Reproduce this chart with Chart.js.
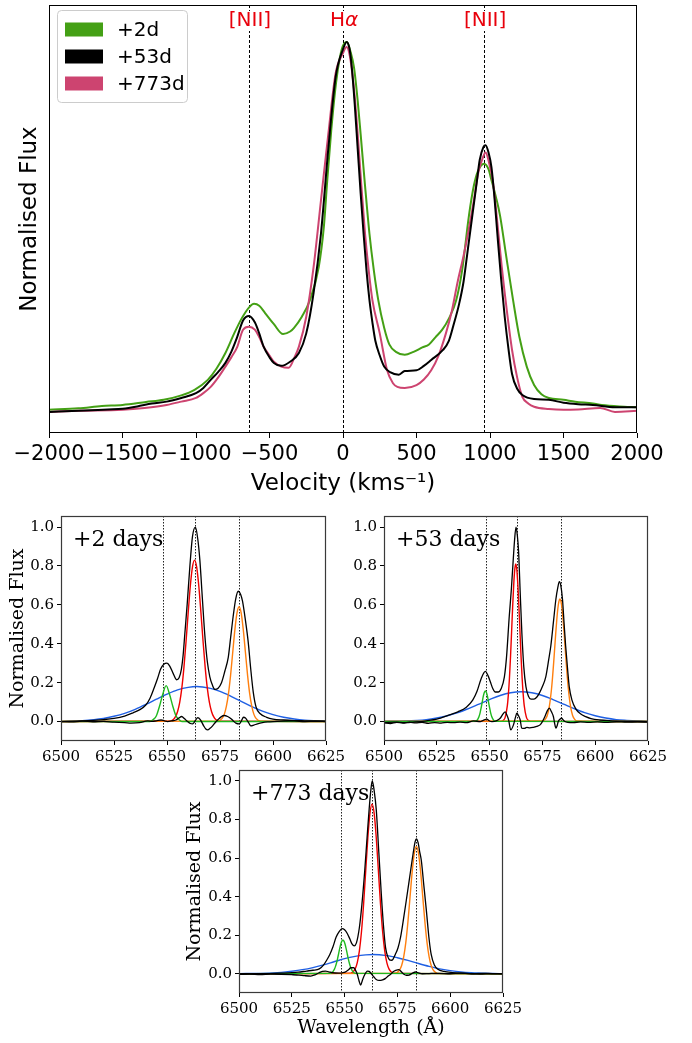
<!DOCTYPE html>
<html>
<head>
<meta charset="utf-8">
<script src="https://cdn.jsdelivr.net/npm/chart.js@4/dist/chart.umd.min.js"></script>
<style>
  body { margin: 0; background: #fff; width: 692px; height: 1043px; position: relative; overflow: hidden; }
  canvas { position: absolute; }
</style>
</head>
<body>
<canvas id="top" width="692" height="500" style="left:0;top:0"></canvas>
<canvas id="p1" width="346" height="265" style="left:0;top:500px"></canvas>
<canvas id="p2" width="346" height="265" style="left:346px;top:500px"></canvas>
<canvas id="p3" width="370" height="283" style="left:180px;top:760px"></canvas>
<script>
// ---- top panel: line profiles in velocity space ----
const velTicks = [-2000, -1500, -1000, -500, 0, 500, 1000, 1500, 2000];
const lineVels = [-640, 0, 960];          // [NII], Halpha, [NII]
const lineNames = ['[NII]', 'H', '[NII]'];
const epochLabels = ['+2d', '+53d', '+773d'];

const flux2d = [[-2000,0.003],[-1800,0.007],[-1640,0.013],[-1500,0.016],[-1340,0.024],[-1220,0.03],[-1100,0.042],[-1010,0.057],[-920,0.084],[-860,0.115],[-800,0.157],[-740,0.21],[-690,0.25],[-640,0.28],[-605,0.29],[-570,0.285],[-530,0.265],[-470,0.235],[-408,0.208],[-360,0.215],[-333,0.225],[-280,0.255],[-225,0.30],[-165,0.39],[-130,0.5],[-108,0.62],[-80,0.76],[-47,0.89],[-20,0.96],[0,0.99],[27,1.0],[50,0.975],[75,0.93],[100,0.84],[120,0.75],[150,0.61],[180,0.48],[210,0.38],[240,0.30],[280,0.225],[315,0.18],[360,0.16],[420,0.152],[480,0.16],[540,0.172],[585,0.18],[630,0.2],[675,0.22],[720,0.25],[770,0.30],[810,0.38],[857,0.53],[890,0.61],[918,0.65],[960,0.67],[990,0.655],[1007,0.63],[1040,0.58],[1068,0.53],[1110,0.42],[1157,0.30],[1200,0.2],[1250,0.12],[1300,0.07],[1350,0.045],[1400,0.035],[1500,0.03],[1580,0.025],[1700,0.02],[1760,0.016],[1880,0.012],[2000,0.01]];
const flux53d = [[-2000,-0.003],[-1800,0.0],[-1600,0.004],[-1500,0.006],[-1400,0.012],[-1300,0.02],[-1200,0.025],[-1100,0.035],[-1000,0.048],[-950,0.062],[-900,0.084],[-850,0.105],[-800,0.13],[-760,0.16],[-720,0.2],[-680,0.245],[-640,0.257],[-600,0.24],[-570,0.21],[-540,0.174],[-500,0.145],[-470,0.13],[-420,0.122],[-360,0.133],[-300,0.157],[-250,0.21],[-200,0.32],[-150,0.48],[-100,0.71],[-50,0.905],[0,0.98],[25,1.0],[45,0.98],[60,0.93],[80,0.83],[100,0.71],[120,0.59],[140,0.48],[160,0.38],[180,0.30],[200,0.24],[220,0.19],[250,0.15],[280,0.12],[320,0.105],[380,0.098],[420,0.108],[500,0.11],[550,0.122],[600,0.138],[680,0.165],[720,0.19],[750,0.23],[790,0.29],[820,0.35],[850,0.44],[880,0.53],[910,0.62],[930,0.68],[955,0.715],[970,0.72],[990,0.7],[1010,0.66],[1030,0.58],[1050,0.48],[1075,0.36],[1100,0.255],[1125,0.17],[1150,0.10],[1185,0.06],[1220,0.043],[1300,0.032],[1400,0.03],[1500,0.022],[1600,0.018],[1700,0.016],[1850,0.01],[2000,0.01]];
const flux773d = [[-2000,-0.003],[-1800,0.0],[-1500,0.003],[-1350,0.008],[-1200,0.016],[-1100,0.025],[-1000,0.035],[-950,0.048],[-900,0.065],[-850,0.09],[-800,0.12],[-760,0.145],[-720,0.173],[-680,0.22],[-640,0.228],[-600,0.22],[-570,0.2],[-540,0.174],[-500,0.15],[-470,0.133],[-420,0.12],[-370,0.117],[-330,0.145],[-300,0.174],[-250,0.255],[-200,0.39],[-150,0.57],[-100,0.75],[-50,0.915],[0,0.97],[25,0.986],[45,0.965],[60,0.925],[80,0.85],[100,0.75],[125,0.61],[150,0.48],[175,0.38],[200,0.30],[250,0.21],[300,0.11],[340,0.075],[370,0.065],[420,0.062],[500,0.07],[550,0.085],[600,0.11],[650,0.15],[700,0.21],[740,0.27],[780,0.35],[820,0.42],[850,0.48],[890,0.57],[920,0.645],[950,0.685],[970,0.70],[995,0.67],[1020,0.62],[1050,0.51],[1080,0.39],[1115,0.27],[1150,0.165],[1185,0.09],[1220,0.038],[1260,0.02],[1300,0.011],[1400,0.005],[1500,0.003],[1600,0.004],[1750,0.008],[1850,-0.003],[2000,0.0]];

// ---- bottom panels: wavelength space fits ----
const wlTicks = [6500, 6525, 6550, 6575, 6600, 6625];
const fluxTicks = [0.0, 0.2, 0.4, 0.6, 0.8, 1.0];
const restLines = [6548.1, 6563.1, 6584.0];
const panelLabels = ['+2 days', '+53 days', '+773 days'];

// +2 days
const p1Total = [[6500,0.0],[6510,0.003],[6520,0.01],[6525,0.016],[6530,0.028],[6534,0.045],[6537,0.06],[6540,0.085],[6542,0.12],[6544,0.175],[6545.5,0.22],[6547,0.27],[6548.5,0.295],[6550,0.30],[6551.3,0.285],[6553,0.245],[6554.5,0.215],[6555.7,0.225],[6556.8,0.27],[6557.6,0.34],[6558.4,0.45],[6559.5,0.6],[6560.8,0.80],[6562,0.95],[6563.4,1.0],[6564.5,0.94],[6565.5,0.83],[6566.7,0.63],[6567.8,0.45],[6569,0.31],[6570.2,0.23],[6571.5,0.185],[6572.6,0.165],[6574,0.17],[6575.7,0.20],[6577.3,0.26],[6578.9,0.33],[6580,0.43],[6581.2,0.54],[6582.4,0.63],[6583.6,0.67],[6584.7,0.655],[6585.6,0.62],[6587,0.52],[6588.3,0.41],[6589.5,0.27],[6590.7,0.15],[6592,0.075],[6594,0.04],[6597,0.022],[6600,0.013],[6605,0.008],[6610,0.005],[6615,0.004],[6625,0.002]];
const p1Resid = [[6500,0],[6505,-0.002],[6510,0.002],[6515,-0.001],[6520,0.001],[6525,-0.003],[6530,-0.005],[6533,-0.008],[6537,-0.006],[6540.9,0.003],[6543,0.001],[6545,0.004],[6547.2,0.008],[6548.8,0.004],[6550.3,0.0],[6552,0.003],[6554.2,0.008],[6555.6,0.018],[6556.9,0.026],[6558.3,0.014],[6559.7,0.0],[6561,-0.01],[6562.1,-0.012],[6563.3,0.004],[6564.5,0.02],[6565.7,0.01],[6567.3,-0.022],[6568.3,-0.038],[6569.2,-0.043],[6570.3,-0.035],[6571.5,-0.022],[6572.7,-0.006],[6573.9,0.008],[6575.5,0.024],[6577,0.031],[6578.6,0.026],[6580.2,0.015],[6581.4,0.002],[6582.5,-0.008],[6584.1,-0.012],[6585.1,0.004],[6586.1,0.022],[6587,0.018],[6587.7,0.008],[6588.7,-0.01],[6589.6,-0.022],[6591,-0.018],[6592.7,-0.012],[6595,-0.006],[6597.5,-0.002],[6600,0.0],[6605,0.002],[6610,0.003],[6615,0.0],[6620,0.001],[6625,0.0]];
const p1Ha = [[6500,0],[6551,0.002],[6553,0.011],[6554,0.025],[6555,0.052],[6556,0.099],[6557,0.173],[6558,0.28],[6559,0.414],[6560,0.561],[6561,0.697],[6562,0.794],[6563,0.83],[6564,0.794],[6565,0.697],[6566,0.561],[6567,0.414],[6568,0.28],[6569,0.173],[6570,0.099],[6571,0.052],[6572,0.025],[6573,0.011],[6575,0.002],[6625,0]];
const p1Nii1 = [[6500,0],[6542,0],[6543.5,0.01],[6545,0.03],[6546.5,0.08],[6548,0.14],[6549.6,0.185],[6551.2,0.14],[6552.7,0.08],[6554.2,0.03],[6555.7,0.01],[6557,0],[6625,0]];
const p1Nii2 = [[6500,0],[6574,0.002],[6576,0.016],[6577,0.037],[6578,0.078],[6579,0.144],[6580,0.239],[6581,0.355],[6582,0.47],[6583,0.557],[6584,0.59],[6585,0.557],[6586,0.47],[6587,0.355],[6588,0.239],[6589,0.144],[6590,0.078],[6591,0.037],[6592,0.016],[6594,0.002],[6625,0]];
const p1Broad = [[6500,0.001],[6510,0.005],[6520,0.016],[6525,0.027],[6530,0.042],[6535,0.063],[6540,0.088],[6545,0.115],[6550,0.141],[6555,0.163],[6560,0.176],[6564,0.18],[6570,0.172],[6575,0.155],[6580,0.131],[6585,0.104],[6590,0.077],[6595,0.054],[6600,0.036],[6605,0.022],[6610,0.013],[6615,0.007],[6620,0.004],[6625,0.002]];

// +53 days
const p2Total = [[6500,-0.005],[6505,-0.003],[6510,-0.006],[6515,-0.002],[6520,0.004],[6525,0.012],[6531,0.034],[6535,0.05],[6539,0.074],[6542,0.11],[6544,0.154],[6546,0.22],[6548,0.258],[6549.3,0.235],[6550.3,0.206],[6551.5,0.17],[6552.7,0.152],[6554,0.152],[6555.5,0.17],[6557,0.23],[6558,0.33],[6559.3,0.54],[6560.3,0.68],[6561,0.80],[6561.8,0.93],[6562.5,1.0],[6563.1,0.96],[6563.7,0.88],[6564.5,0.66],[6565.3,0.45],[6566.2,0.28],[6567.2,0.18],[6568.4,0.13],[6569.6,0.115],[6571,0.115],[6572.3,0.125],[6573.5,0.145],[6575,0.18],[6576.6,0.23],[6578,0.32],[6579,0.39],[6580.3,0.52],[6581.4,0.63],[6582.3,0.69],[6583,0.72],[6583.7,0.70],[6584.5,0.63],[6585.3,0.5],[6586,0.39],[6587,0.26],[6587.7,0.18],[6589,0.11],[6590.8,0.065],[6593,0.04],[6595.5,0.025],[6598,0.015],[6602,0.008],[6608,0.004],[6615,0.001],[6625,0.0]];
const p2Resid = [[6500,-0.006],[6503,-0.01],[6506,-0.004],[6509,-0.008],[6512,-0.003],[6515,-0.007],[6518,-0.004],[6521,-0.009],[6524,-0.005],[6527,-0.008],[6530,-0.004],[6533,-0.006],[6536,-0.003],[6539,-0.006],[6542.4,0.003],[6545.6,0.0],[6547,0.006],[6548.7,0.012],[6550,0.003],[6551.1,0.0],[6553.4,0.005],[6555,0.017],[6556.3,0.038],[6557.4,0.05],[6558.3,0.03],[6559,0.008],[6560,-0.043],[6561.3,-0.017],[6562.2,0.02],[6562.9,0.043],[6563.7,0.03],[6564.5,0.008],[6565.2,-0.034],[6566.5,-0.035],[6567.6,-0.03],[6569,-0.033],[6570.7,-0.03],[6572.3,-0.025],[6573.9,-0.017],[6575,0.0],[6576.2,0.026],[6577.3,0.055],[6578.3,0.069],[6579.3,0.05],[6580.2,0.026],[6580.8,-0.01],[6581.4,-0.034],[6582,-0.02],[6582.5,0.0],[6583.3,0.012],[6584.1,0.017],[6584.9,0.008],[6585.7,0.0],[6587,-0.004],[6589.6,-0.005],[6593,-0.002],[6597,-0.004],[6601,-0.002],[6605,-0.004],[6610,-0.001],[6615,-0.003],[6620,-0.002],[6625,-0.003]];
const p2Ha = [[6500,0],[6555.4,0.001],[6556.4,0.005],[6557.4,0.023],[6558.4,0.082],[6558.9,0.141],[6559.4,0.224],[6559.9,0.332],[6560.4,0.458],[6560.9,0.587],[6561.4,0.70],[6561.9,0.78],[6562.4,0.81],[6562.9,0.78],[6563.4,0.70],[6563.9,0.587],[6564.4,0.458],[6564.9,0.332],[6565.4,0.224],[6565.9,0.141],[6566.4,0.082],[6567.4,0.023],[6568.4,0.005],[6569.4,0.001],[6625,0]];
const p2Nii1 = [[6500,0],[6543,0.001],[6544,0.006],[6544.5,0.014],[6545,0.026],[6545.5,0.045],[6546,0.071],[6546.5,0.10],[6547,0.129],[6547.5,0.15],[6548,0.158],[6548.5,0.15],[6549,0.129],[6549.5,0.10],[6550,0.071],[6550.5,0.045],[6551,0.026],[6551.5,0.014],[6552,0.006],[6553,0.001],[6625,0]];
const p2Nii2 = [[6500,0],[6575.3,0.003],[6576.3,0.011],[6577.3,0.031],[6578.3,0.079],[6579.3,0.166],[6579.8,0.227],[6580.3,0.298],[6580.8,0.374],[6581.3,0.452],[6581.8,0.522],[6582.3,0.58],[6582.8,0.617],[6583.3,0.63],[6583.8,0.617],[6584.3,0.58],[6584.8,0.522],[6585.3,0.452],[6585.8,0.374],[6586.3,0.298],[6586.8,0.227],[6587.3,0.166],[6588.3,0.079],[6589.3,0.031],[6590.3,0.011],[6591.3,0.003],[6625,0]];
const p2Broad = [[6500,0.001],[6510,0.003],[6520,0.010],[6525,0.018],[6530,0.030],[6535,0.046],[6540,0.067],[6545,0.090],[6550,0.113],[6555,0.134],[6560,0.148],[6565,0.153],[6570,0.148],[6575,0.134],[6580,0.113],[6585,0.090],[6590,0.067],[6595,0.046],[6600,0.030],[6605,0.018],[6610,0.010],[6615,0.006],[6620,0.003],[6625,0.001]];

// +773 days
const p3Total = [[6500,0.0],[6510,0.0],[6520,0.003],[6528,0.008],[6532,0.014],[6535,0.018],[6538,0.025],[6540,0.045],[6541.5,0.07],[6543,0.10],[6544.5,0.14],[6546,0.19],[6547.5,0.22],[6548.8,0.234],[6550,0.228],[6551.2,0.21],[6552.5,0.18],[6553.5,0.155],[6554.6,0.145],[6555.6,0.16],[6557,0.24],[6558.2,0.36],[6559.5,0.53],[6560.6,0.70],[6561.6,0.85],[6562.4,0.95],[6563.1,1.0],[6564,0.95],[6565,0.85],[6566.2,0.63],[6567.4,0.41],[6568.4,0.25],[6569.4,0.135],[6570.4,0.09],[6571.3,0.072],[6572.2,0.07],[6572.9,0.075],[6574,0.1],[6575.3,0.135],[6576.5,0.19],[6577.7,0.27],[6579.2,0.38],[6580.8,0.5],[6582.4,0.62],[6583.4,0.685],[6584,0.70],[6584.8,0.68],[6585.6,0.63],[6586.3,0.59],[6587.5,0.46],[6588.7,0.33],[6590,0.18],[6591,0.10],[6592.5,0.045],[6594.2,0.023],[6597,0.012],[6601,0.006],[6607,0.002],[6614,-0.002],[6620,0.0],[6625,0.0]];
const p3Resid = [[6500,-0.003],[6505,-0.002],[6510,-0.004],[6515,-0.002],[6520,-0.003],[6525,-0.005],[6528.4,-0.007],[6531,-0.01],[6534,-0.012],[6536,-0.006],[6537.9,0.005],[6539.5,0.012],[6541,0.014],[6542.5,0.01],[6544.2,0.005],[6547.3,0.003],[6549,0.005],[6550.5,0.01],[6552,0.022],[6552.9,0.031],[6554.4,0.031],[6555.3,0.015],[6556,-0.003],[6556.8,-0.035],[6557.6,-0.059],[6558.4,-0.035],[6559.2,-0.012],[6560.8,0.014],[6561.6,0.012],[6562.3,0.005],[6563.9,-0.017],[6565,-0.03],[6566.3,-0.035],[6568,-0.032],[6569.4,-0.024],[6570.6,-0.012],[6571.8,-0.003],[6573,0.01],[6574.2,0.017],[6575.7,0.021],[6576.9,0.01],[6578.1,-0.003],[6579.3,-0.008],[6580.5,-0.007],[6582,0.002],[6583.6,0.009],[6585,0.004],[6586.8,0.0],[6590,0.001],[6594.7,0.002],[6600,0.0],[6605,0.003],[6610,0.0],[6615,0.002],[6620,0.001],[6625,0.0]];
const p3Ha = [[6500,0],[6553,0.003],[6554,0.01],[6555,0.025],[6556,0.058],[6557,0.119],[6558,0.219],[6559,0.362],[6560,0.534],[6561,0.705],[6562,0.832],[6563,0.88],[6564,0.832],[6565,0.705],[6566,0.534],[6567,0.362],[6568,0.219],[6569,0.119],[6570,0.058],[6571,0.025],[6572,0.01],[6573,0.003],[6625,0]];
const p3Nii1 = [[6500,0],[6543.2,0.002],[6544.2,0.008],[6545.2,0.024],[6545.7,0.038],[6546.2,0.057],[6546.7,0.08],[6547.2,0.106],[6547.7,0.132],[6548.2,0.154],[6548.7,0.169],[6549.2,0.175],[6549.7,0.169],[6550.2,0.154],[6550.7,0.132],[6551.2,0.106],[6551.7,0.08],[6552.2,0.057],[6552.7,0.038],[6553.2,0.024],[6554.2,0.008],[6555.2,0.002],[6625,0]];
const p3Nii2 = [[6500,0],[6574,0.002],[6575,0.007],[6576,0.019],[6577,0.043],[6578,0.089],[6579,0.164],[6580,0.271],[6581,0.40],[6582,0.529],[6583,0.624],[6584,0.66],[6585,0.624],[6586,0.529],[6587,0.40],[6588,0.271],[6589,0.164],[6590,0.089],[6591,0.043],[6592,0.019],[6593,0.007],[6594,0.002],[6625,0]];
const p3Broad = [[6500,0.0004],[6510,0.002],[6520,0.007],[6525,0.013],[6530,0.021],[6535,0.032],[6540,0.046],[6545,0.062],[6550,0.078],[6555,0.090],[6560,0.098],[6563.5,0.10],[6570,0.094],[6575,0.083],[6580,0.069],[6585,0.053],[6590,0.038],[6595,0.025],[6600,0.016],[6605,0.009],[6610,0.005],[6615,0.003],[6620,0.001],[6625,0.0005]];

Chart.defaults.color = '#000';
Chart.defaults.animation = false;

const SANS = 'DejaVu Sans';
const SERIF = 'DejaVu Serif';

function xy(pairs) {
  return pairs.map(p => ({x: p[0], y: p[1]}));
}

function lineSet(label, pairs, color, width, order) {
  return {
    label: label,
    data: xy(pairs),
    borderColor: color,
    backgroundColor: color,
    borderWidth: width,
    pointRadius: 0,
    fill: false,
    cubicInterpolationMode: 'monotone',
    order: order
  };
}

// black box round the plot area
const framePlugin = {
  id: 'frame',
  afterDraw(chart, args, opts) {
    const a = chart.chartArea, ctx = chart.ctx;
    ctx.save();
    ctx.strokeStyle = opts.color || '#000';
    ctx.lineWidth = opts.width || 1;
    ctx.strokeRect(a.left + 0.5, a.top + 0.5, a.right - a.left - 1, a.bottom - a.top - 1);
    ctx.restore();
  }
};

// vertical marker lines at given x values
const vlinePlugin = {
  id: 'vlines',
  beforeDatasetsDraw(chart, args, opts) {
    if (!opts.values) return;
    const a = chart.chartArea, ctx = chart.ctx, sx = chart.scales.x;
    ctx.save();
    ctx.strokeStyle = opts.color;
    ctx.lineWidth = opts.width;
    ctx.setLineDash(opts.dash);
    opts.values.forEach(v => {
      const px = Math.round(sx.getPixelForValue(v)) + 0.5;
      ctx.beginPath();
      ctx.moveTo(px, a.top);
      ctx.lineTo(px, a.bottom);
      ctx.stroke();
    });
    ctx.restore();
  }
};

// text in the corner of a panel ("+2 days" etc)
const cornerTextPlugin = {
  id: 'cornerText',
  afterDatasetsDraw(chart, args, opts) {
    if (!opts.text) return;
    const a = chart.chartArea, ctx = chart.ctx;
    ctx.save();
    ctx.font = opts.size + 'px ' + SERIF;
    ctx.fillStyle = '#000';
    ctx.textBaseline = 'middle';
    ctx.fillText(opts.text, a.left + opts.dx, a.top + opts.dy);
    ctx.restore();
  }
};

// line ids above the dashed lines and the legend box, top panel only
const topDecorPlugin = {
  id: 'topDecor',
  afterDatasetsDraw(chart) {
    const ctx = chart.ctx, sx = chart.scales.x, a = chart.chartArea;
    ctx.save();
    ctx.textBaseline = 'middle';
    lineVels.forEach((v, i) => {
      const px = sx.getPixelForValue(v) + 1;
      const y = a.top + 16;
      if (lineNames[i] === 'H') {
        ctx.font = '20px ' + SANS;
        const w1 = ctx.measureText('H').width;
        ctx.font = 'italic 20px ' + SANS;
        const w2 = ctx.measureText('\u03b1').width;
        const x0 = px - (w1 + w2) / 2;
        ctx.fillStyle = '#fff';
        ctx.fillRect(x0, y - 10, w1 + w2, 20);
        ctx.fillStyle = '#e8000b';
        ctx.font = '20px ' + SANS;
        ctx.textAlign = 'left';
        ctx.fillText('H', x0, y);
        ctx.font = 'italic 20px ' + SANS;
        ctx.fillText('\u03b1', x0 + w1, y);
      } else {
        ctx.font = '20px ' + SANS;
        const w = ctx.measureText(lineNames[i]).width;
        ctx.fillStyle = '#fff';
        ctx.fillRect(px - w / 2, y - 10, w, 20);
        ctx.fillStyle = '#e8000b';
        ctx.textAlign = 'center';
        ctx.fillText(lineNames[i], px, y);
      }
    });

    // legend
    const lx = a.left + 8, ly = a.top + 5, lw = 130, lh = 92;
    ctx.beginPath();
    ctx.roundRect(lx + 0.5, ly + 0.5, lw, lh, 4);
    ctx.fillStyle = 'rgba(255,255,255,0.8)';
    ctx.fill();
    ctx.strokeStyle = '#cccccc';
    ctx.lineWidth = 1;
    ctx.stroke();
    const byLabel = {};
    chart.data.datasets.forEach(d => { byLabel[d.label] = d.borderColor; });
    ctx.font = '20px ' + SANS;
    ctx.textAlign = 'left';
    epochLabels.forEach((lab, i) => {
      const cy = ly + 19.5 + i * 27;
      ctx.fillStyle = byLabel[lab];
      ctx.fillRect(lx + 8, cy - 7, 38, 14);
      ctx.fillStyle = '#000';
      ctx.fillText(lab, lx + 60, cy + 1);
    });
    ctx.restore();
  }
};

function fixedTicks(values) {
  return function (scale) {
    scale.ticks = values.map(v => ({value: v}));
  };
}

// ---- top chart ----
new Chart(document.getElementById('top'), {
  type: 'line',
  data: {
    datasets: [
      lineSet('+2d', flux2d, '#44a015', 2, 2),
      lineSet('+53d', flux53d, '#000000', 2, 0),
      lineSet('+773d', flux773d, '#cd4470', 2, 1)
    ]
  },
  options: {
    responsive: false,
    devicePixelRatio: 1,
    layout: {padding: {top: 5, right: 55, bottom: 0, left: 0}},
    plugins: {
      legend: {display: false},
      tooltip: {enabled: false},
      frame: {color: '#000', width: 1},
      vlines: {values: lineVels, color: '#000', width: 1, dash: [3, 2]}
    },
    scales: {
      x: {
        type: 'linear',
        min: -2000, max: 2000,
        afterBuildTicks: fixedTicks(velTicks),
        afterFit(s) { s.height = 67; s.paddingLeft = 0; s.paddingRight = 0; },
        border: {display: false},
        grid: {drawOnChartArea: false, drawTicks: true, tickLength: 5, color: '#000'},
        ticks: {
          autoSkip: false, maxRotation: 0, minRotation: 0, padding: 4,
          font: {family: SANS, size: 21},
          callback: v => (v < 0 ? '\u2212' + Math.abs(v) : String(v))
        },
        title: {display: true, text: 'Velocity (kms\u207b\u00b9)', font: {family: SANS, size: 23}, padding: {top: 0, bottom: 2}}
      },
      y: {
        type: 'linear',
        min: -0.06, max: 1.10,
        afterFit(s) { s.width = 49; s.paddingTop = 0; s.paddingBottom = 0; },
        border: {display: false},
        grid: {display: false},
        ticks: {display: false},
        title: {display: true, text: 'Normalised Flux', font: {family: SANS, size: 23}, padding: {top: 16, bottom: 0}}
      }
    }
  },
  plugins: [framePlugin, vlinePlugin, topDecorPlugin]
});

// ---- the three fit panels ----
function makePanel(id, parts, cfg) {
  const scales = {
    x: {
      type: 'linear',
      min: 6500, max: 6625,
      afterBuildTicks: fixedTicks(wlTicks),
      afterFit(s) { s.height = cfg.xHeight; s.paddingLeft = 0; s.paddingRight = 0; },
      border: {display: false},
      grid: {drawOnChartArea: false, drawTicks: true, tickLength: 4, color: '#000'},
      ticks: {autoSkip: false, maxRotation: 0, minRotation: 0, padding: 3, font: {family: SERIF, size: 15}, callback: v => String(v)},
      title: {display: !!cfg.xTitle, text: cfg.xTitle || '', font: {family: SERIF, size: 19}, padding: {top: 0, bottom: 4}}
    },
    y: {
      type: 'linear',
      min: -0.1, max: 1.057,
      afterBuildTicks: fixedTicks(fluxTicks),
      afterFit(s) { s.width = cfg.yWidth; s.paddingTop = 0; s.paddingBottom = 0; },
      border: {display: false},
      grid: {drawOnChartArea: false, drawTicks: true, tickLength: 4, color: '#000'},
      ticks: {padding: 3, font: {family: SERIF, size: 15}, callback: v => v.toFixed(1)},
      title: {display: !!cfg.yTitle, text: cfg.yTitle || '', font: {family: SERIF, size: 19}, padding: {top: cfg.yTitlePad, bottom: 0}}
    }
  };
  new Chart(document.getElementById(id), {
    type: 'line',
    data: {
      datasets: [
        lineSet('data', parts.total, '#000000', 1.3, 1),
        lineSet('residual', parts.resid, '#000000', 1.3, 0),
        lineSet('[NII] 6548', parts.nii1, '#1fb91f', 1.4, 2),
        lineSet('[NII] 6583', parts.nii2, '#ff7f0e', 1.4, 3),
        lineSet('Halpha', parts.ha, '#ee0000', 1.4, 4),
        lineSet('broad', parts.broad, '#1f5fe3', 1.4, 5)
      ]
    },
    options: {
      responsive: false,
      devicePixelRatio: 1,
      layout: {padding: {top: cfg.padTop, right: cfg.padRight, bottom: 0, left: 0}},
      plugins: {
        legend: {display: false},
        tooltip: {enabled: false},
        frame: {color: '#3a3a3a', width: 1.2},
        vlines: {values: restLines, color: '#222', width: 1, dash: [1.5, 1.5]},
        cornerText: {text: cfg.label, size: 22, dx: 12, dy: 24}
      },
      scales: scales
    },
    plugins: [framePlugin, vlinePlugin, cornerTextPlugin]
  });
}

makePanel('p1',
  {total: p1Total, resid: p1Resid, ha: p1Ha, nii1: p1Nii1, nii2: p1Nii2, broad: p1Broad},
  {label: panelLabels[0], yWidth: 61, padTop: 16, padRight: 20, xHeight: 24, yTitle: 'Normalised Flux', yTitlePad: 7});
makePanel('p2',
  {total: p2Total, resid: p2Resid, ha: p2Ha, nii1: p2Nii1, nii2: p2Nii2, broad: p2Broad},
  {label: panelLabels[1], yWidth: 38, padTop: 16, padRight: 44, xHeight: 24});
makePanel('p3',
  {total: p3Total, resid: p3Resid, ha: p3Ha, nii1: p3Nii1, nii2: p3Nii2, broad: p3Broad},
  {label: panelLabels[2], yWidth: 59, padTop: 10, padRight: 47, xHeight: 50, yTitle: 'Normalised Flux', yTitlePad: 4, xTitle: 'Wavelength (\u00c5)'});
</script>
</body>
</html>
